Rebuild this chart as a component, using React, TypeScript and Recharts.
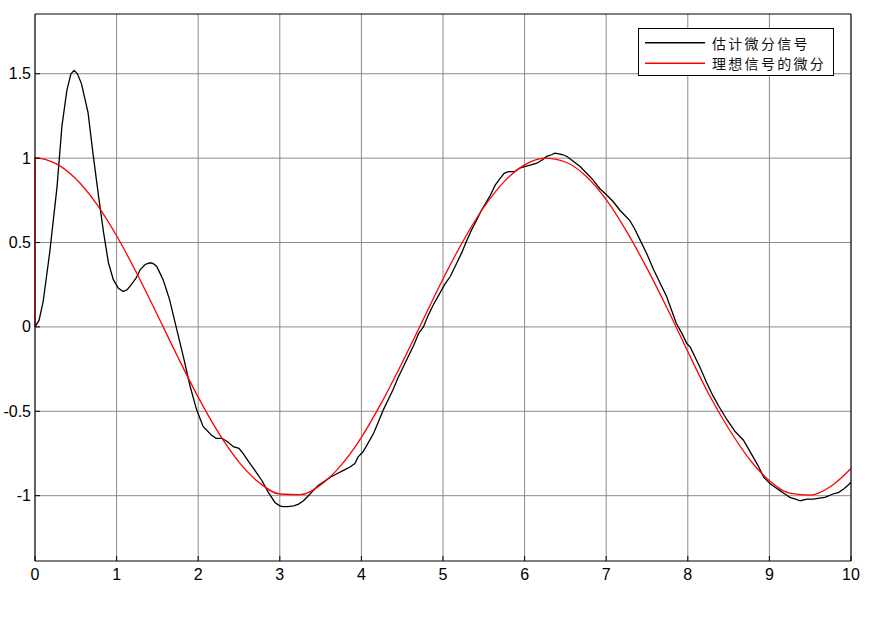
import React from 'react';
import { LineChart, Line, XAxis, YAxis, CartesianGrid } from 'recharts';

const seriesNames = ['估计微分信号', '理想信号的微分'];
const seriesColors = ['#000000', '#ff0000'];

const xTicks = [0, 1, 2, 3, 4, 5, 6, 7, 8, 9, 10];
const yTicks = [-1, -0.5, 0, 0.5, 1, 1.5];
const xDomain = [0, 10];
const yDomain = [-1.387, 1.854];

// estimated derivative (black)
const estT = [0, 0.05, 0.1, 0.18, 0.27, 0.33, 0.39, 0.44, 0.48, 0.52, 0.57, 0.65, 0.71, 0.78, 0.84, 0.9, 0.96, 1.02, 1.08, 1.13, 1.18, 1.24, 1.29, 1.35, 1.41, 1.45, 1.49, 1.53, 1.57, 1.61, 1.65, 1.7, 1.74, 1.82, 1.9, 1.98, 2.06, 2.16, 2.22, 2.29, 2.36, 2.43, 2.5, 2.55, 2.62, 2.68, 2.78, 2.86, 2.94, 3.0, 3.04, 3.1, 3.17, 3.23, 3.29, 3.35, 3.41, 3.47, 3.53, 3.62, 3.7, 3.78, 3.86, 3.92, 3.96, 4.02, 4.08, 4.15, 4.21, 4.27, 4.33, 4.39, 4.45, 4.51, 4.57, 4.64, 4.7, 4.76, 4.82, 4.88, 4.95, 5.02, 5.09, 5.16, 5.23, 5.29, 5.35, 5.41, 5.47, 5.52, 5.58, 5.64, 5.7, 5.75, 5.8, 5.88, 5.94, 6.0, 6.08, 6.15, 6.22, 6.27, 6.33, 6.37, 6.42, 6.47, 6.52, 6.6, 6.68, 6.76, 6.84, 6.92, 7.01, 7.09, 7.17, 7.23, 7.29, 7.35, 7.41, 7.5, 7.58, 7.66, 7.74, 7.8, 7.86, 7.93, 7.99, 8.03, 8.1, 8.15, 8.23, 8.3, 8.38, 8.48, 8.58, 8.68, 8.74, 8.8, 8.87, 8.93, 9.01, 9.07, 9.13, 9.19, 9.25, 9.32, 9.38, 9.46, 9.54, 9.61, 9.68, 9.73, 9.78, 9.85, 9.91, 9.96, 10.0];
const estV = [0, 0.04, 0.15, 0.44, 0.83, 1.19, 1.4, 1.5, 1.52, 1.5, 1.44, 1.27, 1.03, 0.77, 0.56, 0.38, 0.28, 0.23, 0.21, 0.22, 0.25, 0.29, 0.34, 0.37, 0.38, 0.375, 0.36, 0.32, 0.28, 0.22, 0.16, 0.06, -0.02, -0.18, -0.35, -0.49, -0.59, -0.64, -0.66, -0.66, -0.68, -0.71, -0.72, -0.75, -0.8, -0.84, -0.91, -0.98, -1.04, -1.06, -1.065, -1.065, -1.06, -1.05, -1.03, -1.0, -0.97, -0.94, -0.92, -0.89, -0.87, -0.85, -0.83, -0.81, -0.77, -0.74, -0.69, -0.63, -0.56, -0.49, -0.43, -0.37, -0.3, -0.24, -0.18, -0.11, -0.04, 0.0, 0.07, 0.13, 0.19, 0.25, 0.3, 0.37, 0.44, 0.51, 0.575, 0.63, 0.69, 0.73, 0.78, 0.84, 0.88, 0.91, 0.92, 0.92, 0.94, 0.95, 0.96, 0.97, 0.99, 1.01, 1.02, 1.03, 1.025, 1.02, 1.01, 0.98, 0.95, 0.91, 0.87, 0.82, 0.78, 0.74, 0.69, 0.66, 0.63, 0.58, 0.52, 0.43, 0.34, 0.26, 0.18, 0.1, 0.02, -0.04, -0.1, -0.12, -0.19, -0.24, -0.33, -0.4, -0.47, -0.55, -0.62, -0.67, -0.72, -0.77, -0.83, -0.89, -0.93, -0.95, -0.97, -0.99, -1.01, -1.02, -1.03, -1.02, -1.02, -1.015, -1.01, -1.0, -0.99, -0.98, -0.96, -0.94, -0.92];

// ideal derivative (red)
const idealT = [0, 0.0001, 0.25, 0.5, 0.75, 1, 1.25, 1.5, 1.75, 2, 2.25, 2.5, 2.75, 3, 3.25, 3.5, 3.75, 4, 4.25, 4.5, 4.75, 5, 5.25, 5.5, 5.75, 6, 6.25, 6.5, 6.75, 7, 7.25, 7.5, 7.75, 8, 8.25, 8.5, 8.75, 9, 9.25, 9.5, 9.75, 10];
const idealV = [0, 1, 0.969, 0.878, 0.732, 0.54, 0.315, 0.071, -0.178, -0.416, -0.628, -0.801, -0.924, -0.99, -0.994, -0.936, -0.82, -0.654, -0.446, -0.211, 0.037, 0.284, 0.512, 0.709, 0.861, 0.96, 1.0, 0.977, 0.894, 0.754, 0.566, 0.347, 0.108, -0.146, -0.392, -0.602, -0.78, -0.911, -0.985, -0.997, -0.946, -0.839];

const estData = estT.map((t, i) => ({ t, v: estV[i] }));
const idealData = idealT.map((t, i) => ({ t, v: idealV[i] }));

const FONT = '"Liberation Sans", Arial, sans-serif';
const Y_MARGIN = 4;
const X_MARGIN = 7;
const TICK_LEN = 5;

const LeftTick = (props: any) => {
  const { x, y, payload } = props;
  return (
    <g>
      <text x={x} y={y} textAnchor="end" dominantBaseline="central" fontSize={16} fontFamily={FONT} fill="#000">
        {payload.value}
      </text>
      <line x1={x + Y_MARGIN} x2={x + Y_MARGIN + TICK_LEN} y1={y} y2={y} stroke="#000" />
    </g>
  );
};

const BottomTick = (props: any) => {
  const { x, y, payload } = props;
  return (
    <g>
      <text x={x} y={y} dy="0.72em" textAnchor="middle" fontSize={16} fontFamily={FONT} fill="#000">
        {payload.value}
      </text>
      <line x1={x} x2={x} y1={y - X_MARGIN} y2={y - X_MARGIN - TICK_LEN} stroke="#000" />
    </g>
  );
};

export default function App() {
  return (
    <div style={{ position: 'absolute', left: 0, top: 0, width: 875, height: 619, background: '#fff' }}>
      <LineChart width={875} height={619} data={estData} margin={{ top: 14, right: 24, bottom: 28, left: 0 }}>
        <CartesianGrid stroke="#8a8a8a" strokeWidth={1} horizontalValues={yTicks} verticalValues={xTicks} />
        <XAxis
          dataKey="t"
          type="number"
          domain={xDomain}
          ticks={xTicks}
          height={30}
          tickSize={0}
          tickMargin={X_MARGIN}
          tickLine={false}
          axisLine={{ stroke: '#000' }}
          tick={<BottomTick />}
          interval={0}
        />
        <XAxis
          xAxisId="top"
          orientation="top"
          mirror
          dataKey="t"
          type="number"
          domain={xDomain}
          ticks={xTicks}
          height={1}
          tickSize={TICK_LEN}
          tick={false}
          tickLine={{ stroke: '#000' }}
          axisLine={{ stroke: '#000' }}
          interval={0}
        />
        <YAxis
          type="number"
          domain={yDomain}
          ticks={yTicks}
          width={35}
          tickSize={0}
          tickMargin={Y_MARGIN}
          tickLine={false}
          axisLine={{ stroke: '#000' }}
          tick={<LeftTick />}
          interval={0}
        />
        <YAxis
          yAxisId="right"
          orientation="right"
          mirror
          type="number"
          domain={yDomain}
          ticks={yTicks}
          width={1}
          tickSize={TICK_LEN}
          tick={false}
          tickLine={{ stroke: '#000' }}
          axisLine={{ stroke: '#000' }}
          interval={0}
        />
        <Line
          data={estData}
          dataKey="v"
          type="linear"
          stroke={seriesColors[0]}
          strokeWidth={1.3}
          dot={false}
          isAnimationActive={false}
          name={seriesNames[0]}
        />
        <Line
          data={idealData}
          dataKey="v"
          xAxisId="top"
          yAxisId="right"
          type="monotone"
          stroke={seriesColors[1]}
          strokeWidth={1.3}
          dot={false}
          isAnimationActive={false}
          name={seriesNames[1]}
        />
      </LineChart>
      <svg
        width={196}
        height={48}
        style={{ position: 'absolute', left: 638, top: 28 }}
      >
        <rect x={0.5} y={0.5} width={195} height={47} fill="#fff" stroke="#000" strokeWidth={1} />
        {seriesNames.map((n, i) => {
          const cy = 14.7 + i * 20.6;
          return (
            <g key={n}>
              <line x1={7} x2={67} y1={cy} y2={cy} stroke={seriesColors[i]} strokeWidth={1.4} />
              <text
                x={74}
                y={cy}
                dominantBaseline="central"
                fontSize={14}
                letterSpacing={2.3}
                fontFamily='"Noto Sans CJK SC", sans-serif'
                fill="#111"
              >
                {n}
              </text>
            </g>
          );
        })}
      </svg>
    </div>
  );
}
